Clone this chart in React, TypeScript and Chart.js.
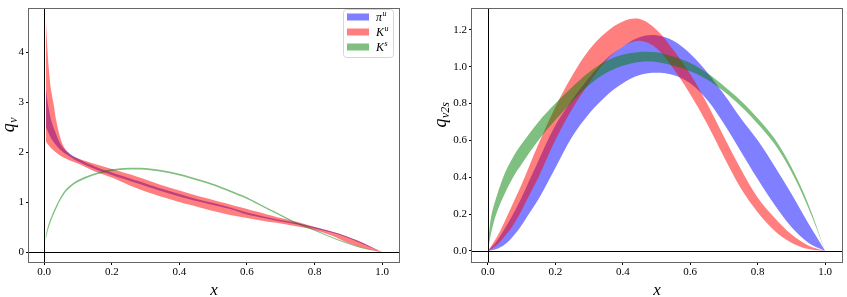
import React, { useEffect, useRef } from 'react';
import { Chart, registerables } from 'chart.js';
Chart.register(...registerables);

// ---------- Left panel: q_v ----------
const qvPiX = [0.005, 0.01, 0.02, 0.03, 0.05, 0.075, 0.1, 0.15, 0.2, 0.25, 0.3, 0.35, 0.4, 0.45, 0.5, 0.55, 0.6, 0.65, 0.7, 0.75, 0.8, 0.85, 0.9, 0.95, 1.0];
const qvPiLow = [2.5, 2.42, 2.28, 2.18, 2.03, 1.91, 1.81, 1.66, 1.54, 1.43, 1.32, 1.21, 1.11, 1.02, 0.94, 0.86, 0.75, 0.68, 0.61, 0.55, 0.47, 0.39, 0.28, 0.14, 0];
const qvPiHigh = [3.25, 3.0, 2.65, 2.45, 2.14, 1.97, 1.87, 1.71, 1.59, 1.48, 1.37, 1.26, 1.16, 1.06, 0.98, 0.89, 0.79, 0.71, 0.64, 0.58, 0.5, 0.41, 0.3, 0.16, 0];

const qvKuX = [0.005, 0.01, 0.015, 0.02, 0.028, 0.035, 0.047, 0.06, 0.08, 0.1, 0.15, 0.2, 0.25, 0.3, 0.35, 0.4, 0.45, 0.5, 0.55, 0.6, 0.65, 0.7, 0.75, 0.8, 0.85, 0.9, 0.95, 0.98, 1.0];
const qvKuLow = [2.21, 2.16, 2.12, 2.08, 2.03, 1.99, 1.93, 1.88, 1.82, 1.77, 1.61, 1.49, 1.34, 1.21, 1.1, 1.0, 0.91, 0.82, 0.74, 0.68, 0.62, 0.57, 0.51, 0.44, 0.33, 0.18, 0.07, 0.02, 0];
const qvKuHigh = [4.65, 4.0, 3.55, 3.25, 2.95, 2.65, 2.3, 2.08, 1.93, 1.87, 1.76, 1.66, 1.56, 1.45, 1.33, 1.23, 1.13, 1.04, 0.95, 0.86, 0.77, 0.68, 0.6, 0.5, 0.41, 0.3, 0.16, 0.06, 0];

const qvKsX = [0.004, 0.01, 0.02, 0.04, 0.06, 0.08, 0.1, 0.15, 0.2, 0.25, 0.3, 0.35, 0.4, 0.45, 0.5, 0.55, 0.6, 0.65, 0.7, 0.75, 0.8, 0.85, 0.9, 0.95, 1.0];
const qvKsLow = [0.23, 0.41, 0.62, 0.93, 1.17, 1.31, 1.4, 1.54, 1.62, 1.65, 1.645, 1.6, 1.53, 1.435, 1.33, 1.2, 1.06, 0.89, 0.72, 0.555, 0.425, 0.285, 0.16, 0.06, 0];
const qvKsHigh = [0.31, 0.49, 0.69, 0.99, 1.22, 1.35, 1.44, 1.575, 1.655, 1.685, 1.68, 1.635, 1.565, 1.47, 1.365, 1.235, 1.095, 0.92, 0.75, 0.58, 0.45, 0.305, 0.18, 0.075, 0];

// ---------- Right panel: q_v2s ----------
const q2X = [0, 0.025, 0.05, 0.075, 0.1, 0.125, 0.15, 0.2, 0.25, 0.3, 0.35, 0.4, 0.45, 0.5, 0.55, 0.6, 0.65, 0.7, 0.75, 0.8, 0.85, 0.9, 0.95, 1.0];
const q2PiLow = [0, 0.01, 0.035, 0.08, 0.14, 0.21, 0.28, 0.45, 0.62, 0.745, 0.84, 0.91, 0.955, 0.967, 0.955, 0.91, 0.82, 0.69, 0.54, 0.39, 0.25, 0.13, 0.045, 0];
const q2PiHigh = [0, 0.05, 0.12, 0.2, 0.29, 0.39, 0.49, 0.68, 0.82, 0.94, 1.04, 1.11, 1.16, 1.17, 1.14, 1.07, 0.97, 0.85, 0.72, 0.6, 0.46, 0.31, 0.15, 0];
const q2KuLow = [0, 0.03, 0.08, 0.14, 0.22, 0.31, 0.4, 0.6, 0.77, 0.91, 1.03, 1.11, 1.14, 1.1, 0.99, 0.85, 0.69, 0.51, 0.34, 0.21, 0.11, 0.045, 0.01, 0];
const q2KuHigh = [0, 0.07, 0.16, 0.26, 0.36, 0.47, 0.58, 0.78, 0.95, 1.09, 1.185, 1.245, 1.258, 1.2, 1.09, 0.96, 0.8, 0.62, 0.445, 0.29, 0.18, 0.09, 0.03, 0];

const q2KsX = [0.003, 0.01, 0.025, 0.05, 0.075, 0.1, 0.15, 0.2, 0.25, 0.3, 0.35, 0.4, 0.45, 0.5, 0.55, 0.6, 0.65, 0.7, 0.75, 0.8, 0.85, 0.9, 0.95, 1.0];
const q2KsLow = [0.03, 0.1, 0.2, 0.31, 0.4, 0.47, 0.6, 0.71, 0.81, 0.9, 0.965, 1.005, 1.025, 1.025, 1.005, 0.975, 0.93, 0.865, 0.785, 0.69, 0.58, 0.43, 0.235, 0];
const q2KsHigh = [0.09, 0.19, 0.29, 0.42, 0.51, 0.58, 0.7, 0.8, 0.89, 0.97, 1.03, 1.065, 1.08, 1.078, 1.055, 1.02, 0.965, 0.895, 0.815, 0.72, 0.61, 0.455, 0.255, 0];

// ---------- ticks / labels ----------
const xTicks = [0, 0.2, 0.4, 0.6, 0.8, 1.0];
const qvYTicks = [0, 1, 2, 3, 4];
const q2YTicks = [0, 0.2, 0.4, 0.6, 0.8, 1.0, 1.2];
const legendMain = ['π', 'K', 'K'];
const legendSup = ['u', 'u', 's'];

const BLUE = 'rgba(0,0,255,0.5)';
const RED = 'rgba(255,0,0,0.5)';
const GREEN = 'rgba(0,128,0,0.5)';
const SERIF = "'Liberation Serif', 'Times New Roman', serif";

Chart.defaults.font.family = SERIF;

function band(xs: number[], lo: number[], hi: number[], color: string) {
  const common = {
    borderColor: 'rgba(0,0,0,0)',
    borderWidth: 0,
    pointRadius: 0,
    pointHoverRadius: 0,
    tension: 0.35,
  };
  return [
    { ...common, data: xs.map((x, i) => ({ x, y: hi[i] })), fill: '+1', backgroundColor: color },
    { ...common, data: xs.map((x, i) => ({ x, y: lo[i] })), fill: false, backgroundColor: color },
  ];
}

function decorPlugin(cfg: {
  yMain: string; ySub: string; yTitleX: number; yTitleCY: number; legend: boolean;
}) {
  return {
    id: 'decor',
    afterDatasetsDraw(chart: any) {
      const ctx = chart.ctx;
      const ca = chart.chartArea;
      const x0 = Math.round(chart.scales.x.getPixelForValue(0)) + 0.5;
      const y0 = Math.round(chart.scales.y.getPixelForValue(0)) + 0.5;
      ctx.save();
      ctx.strokeStyle = '#000';
      ctx.lineWidth = 1;
      ctx.beginPath();
      ctx.moveTo(x0, ca.top);
      ctx.lineTo(x0, ca.bottom);
      ctx.moveTo(ca.left, y0);
      ctx.lineTo(ca.right, y0);
      ctx.stroke();
      ctx.restore();
    },
    afterDraw(chart: any) {
      const ctx = chart.ctx;
      const ca = chart.chartArea;
      ctx.save();
      // frame
      ctx.strokeStyle = '#666';
      ctx.lineWidth = 1;
      ctx.strokeRect(Math.round(ca.left) - 0.5, Math.round(ca.top) - 0.5,
        Math.round(ca.right - ca.left) + 1, Math.round(ca.bottom - ca.top) + 1);
      // x title
      ctx.fillStyle = '#000';
      ctx.font = `italic 17px ${SERIF}`;
      ctx.textAlign = 'center';
      ctx.textBaseline = 'alphabetic';
      ctx.fillText('x', (ca.left + ca.right) / 2, 295);
      // y title (rotated)
      ctx.save();
      ctx.translate(cfg.yTitleX, cfg.yTitleCY);
      ctx.rotate(-Math.PI / 2);
      ctx.textAlign = 'left';
      const mainFont = `italic 18px ${SERIF}`;
      const subFont = `italic 12px ${SERIF}`;
      ctx.font = mainFont;
      const w1 = ctx.measureText(cfg.yMain).width;
      ctx.font = subFont;
      const w2 = ctx.measureText(cfg.ySub).width;
      const start = -(w1 + w2) / 2;
      ctx.font = mainFont;
      ctx.fillText(cfg.yMain, start, 0);
      ctx.font = subFont;
      ctx.fillText(cfg.ySub, start + w1 + 0.5, 3);
      ctx.restore();
      // legend
      if (cfg.legend) {
        const bx = 343.5, by = 9.5, bw = 50, bh = 48, r = 3;
        ctx.beginPath();
        ctx.moveTo(bx + r, by);
        ctx.lineTo(bx + bw - r, by);
        ctx.quadraticCurveTo(bx + bw, by, bx + bw, by + r);
        ctx.lineTo(bx + bw, by + bh - r);
        ctx.quadraticCurveTo(bx + bw, by + bh, bx + bw - r, by + bh);
        ctx.lineTo(bx + r, by + bh);
        ctx.quadraticCurveTo(bx, by + bh, bx, by + bh - r);
        ctx.lineTo(bx, by + r);
        ctx.quadraticCurveTo(bx, by, bx + r, by);
        ctx.closePath();
        ctx.fillStyle = 'rgba(255,255,255,0.8)';
        ctx.fill();
        ctx.strokeStyle = '#d6d6d6';
        ctx.stroke();
        const colors = [BLUE, RED, GREEN];
        const rows = [17, 32, 47];
        for (let i = 0; i < 3; i++) {
          const cy = rows[i];
          ctx.fillStyle = colors[i];
          ctx.fillRect(347, cy - 3.5, 22, 7);
          ctx.fillStyle = '#000';
          ctx.font = `italic 12px ${SERIF}`;
          ctx.textAlign = 'left';
          ctx.fillText(legendMain[i], 376, cy + 4);
          const mw = ctx.measureText(legendMain[i]).width;
          ctx.font = `italic 8px ${SERIF}`;
          ctx.fillText(legendSup[i], 376 + mw + 0.5, cy - 1);
        }
      }
      ctx.restore();
    },
  };
}

function makeOptions(opts: {
  xMin: number; xMax: number; yMin: number; yMax: number; yTicks: number[]; yDigits: number;
  yWidth: number; padRight: number;
}) {
  const tickFont = { family: SERIF, size: 11 };
  return {
    animation: false as const,
    responsive: false,
    devicePixelRatio: 1,
    events: [],
    layout: { padding: { top: 5, right: opts.padRight, left: 0, bottom: 0 } },
    plugins: { legend: { display: false }, tooltip: { enabled: false }, title: { display: false } },
    scales: {
      x: {
        type: 'linear' as const,
        min: opts.xMin,
        max: opts.xMax,
        afterBuildTicks: (s: any) => { s.ticks = xTicks.map((v) => ({ value: v })); },
        afterFit: (s: any) => { s.height = 35; },
        ticks: { font: tickFont, color: '#000', padding: 1, maxRotation: 0, autoSkip: false,
          callback: (v: any) => Number(v).toFixed(1) },
        grid: { drawOnChartArea: false, drawTicks: true, tickLength: 3, color: '#000' },
        border: { display: false },
      },
      y: {
        type: 'linear' as const,
        min: opts.yMin,
        max: opts.yMax,
        afterBuildTicks: (s: any) => { s.ticks = opts.yTicks.map((v) => ({ value: v })); },
        afterFit: (s: any) => { s.width = opts.yWidth; },
        ticks: { font: tickFont, color: '#000', padding: 2, autoSkip: false,
          callback: (v: any) => Number(v).toFixed(opts.yDigits) },
        grid: { drawOnChartArea: false, drawTicks: true, tickLength: 3, color: '#000' },
        border: { display: false },
      },
    },
  };
}

export default function App() {
  const leftRef = useRef<HTMLCanvasElement>(null);
  const rightRef = useRef<HTMLCanvasElement>(null);

  useEffect(() => {
    const left = new Chart(leftRef.current as HTMLCanvasElement, {
      type: 'line',
      data: {
        datasets: [
          ...band(qvKsX, qvKsLow, qvKsHigh, GREEN),
          ...band(qvKuX, qvKuLow, qvKuHigh, RED),
          ...band(qvPiX, qvPiLow, qvPiHigh, BLUE),
        ] as any,
      },
      options: makeOptions({ xMin: -0.045, xMax: 1.05, yMin: -0.2, yMax: 4.87, yTicks: qvYTicks, yDigits: 0, yWidth: 29, padRight: 24 }) as any,
      plugins: [decorPlugin({ yMain: 'q', ySub: 'v', yTitleX: 14, yTitleCY: 125, legend: true })],
    });
    const right = new Chart(rightRef.current as HTMLCanvasElement, {
      type: 'line',
      data: {
        datasets: [
          ...band(q2KsX, q2KsLow, q2KsHigh, GREEN),
          ...band(q2X, q2KuLow, q2KuHigh, RED),
          ...band(q2X, q2PiLow, q2PiHigh, BLUE),
        ] as any,
      },
      options: makeOptions({ xMin: -0.047, xMax: 1.05, yMin: -0.06, yMax: 1.315, yTicks: q2YTicks, yDigits: 1, yWidth: 49, padRight: 5 }) as any,
      plugins: [decorPlugin({ yMain: 'q', ySub: 'v2s', yTitleX: 23, yTitleCY: 115, legend: false })],
    });
    return () => { left.destroy(); right.destroy(); };
  }, []);

  return (
    <div style={{ position: 'absolute', left: 0, top: 0, width: 847, height: 297, background: '#fff' }}>
      <canvas ref={leftRef} width={423} height={297} style={{ position: 'absolute', left: 0, top: 0, width: 423, height: 297 }} />
      <canvas ref={rightRef} width={424} height={297} style={{ position: 'absolute', left: 423, top: 0, width: 424, height: 297 }} />
    </div>
  );
}
